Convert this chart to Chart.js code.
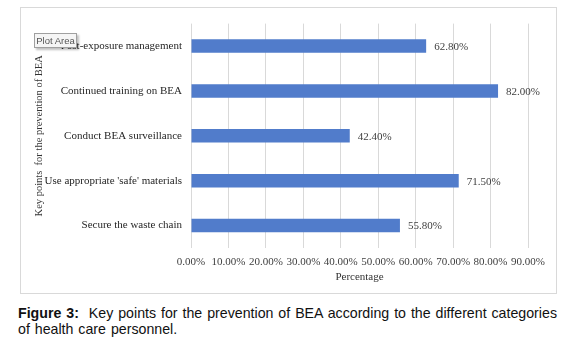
<!DOCTYPE html>
<html lang="en">
<head>
    <meta charset="UTF-8">
    <title>Key points for the prevention of BEA</title>
    <style>
        body { margin: 0; background: #fff; font-family: "Liberation Sans", Arial, sans-serif; }
        .frame { position: absolute; left: 20px; top: 7px; width: 535px; height: 285px; border: 1px solid #d9d9d9; }
        .tip { position: absolute; left: 34px; top: 33px; width: 41px; height: 13px; line-height: 13px; text-align: center;
               font-size: 9.5px; color: #555; background: #f5f5f5; border: 1px solid #a0a0a0;
               box-shadow: 2px 2px 2px rgba(0,0,0,0.25); }
        .caption { position: absolute; left: 18px; top: 305px; width: 556px; font-size: 14.2px; line-height: 16px;
                   word-spacing: 1px; color: #111; white-space: nowrap; }
    </style>
</head>
<body>
    <div class="frame">
        <canvas id="beaChart" width="535" height="285"></canvas>
    </div>
    <div class="tip">Plot Area</div>
    <div class="caption"><b>Figure 3:</b>&nbsp; Key points for the prevention of BEA according to the different categories<br>of health care personnel.</div>

    <script src="https://cdn.jsdelivr.net/npm/chart.js@4.4.1/dist/chart.umd.min.js"></script>
    <script>
        const categories = ['Post-exposure management', 'Continued training on BEA', 'Conduct BEA surveillance',
            "Use appropriate 'safe' materials", 'Secure the waste chain'];
        const percentages = [62.8, 82.0, 42.4, 71.5, 55.8];
        const tickValues = [0, 10, 20, 30, 40, 50, 60, 70, 80, 90];

        const serif = '"Liberation Serif", "Times New Roman", serif';

        // value labels at the end of each bar
        const valueLabels = {
            id: 'valueLabels',
            afterDatasetsDraw(chart) {
                const c = chart.ctx;
                const meta = chart.getDatasetMeta(0);
                c.save();
                c.font = '11px ' + serif;
                c.fillStyle = '#404040';
                c.textBaseline = 'middle';
                meta.data.forEach((bar, i) => {
                    c.fillText(percentages[i].toFixed(2) + '%', bar.x + 8, bar.y + 1);
                });
                c.restore();
            }
        };

        new Chart(document.getElementById('beaChart'), {
            type: 'bar',
            data: {
                labels: categories,
                datasets: [{
                    data: percentages,
                    backgroundColor: '#517ccb',
                    barPercentage: 0.3,
                    categoryPercentage: 1
                }]
            },
            options: {
                indexAxis: 'y',
                responsive: false,
                animation: false,
                layout: { padding: { top: 11, right: 28, left: 0, bottom: 0 } },
                plugins: { legend: { display: false }, tooltip: { enabled: false } },
                scales: {
                    x: {
                        min: 0,
                        max: 90,
                        afterBuildTicks: s => { s.ticks = tickValues.map(v => ({ value: v })); },
                        afterFit: s => { s.height = 45; },
                        grid: { color: '#d9d9d9', drawTicks: false },
                        border: { display: false },
                        ticks: {
                            padding: 8,
                            autoSkip: false,
                            maxRotation: 0,
                            minRotation: 0,
                            color: '#404040',
                            font: { family: serif, size: 11 },
                            callback: v => v.toFixed(2) + '%'
                        },
                        title: {
                            display: true,
                            text: 'Percentage',
                            color: '#333',
                            font: { family: serif, size: 11 },
                            padding: { top: 0, bottom: 9 }
                        }
                    },
                    y: {
                        afterFit: s => { s.width = 170; },
                        grid: { display: false, drawTicks: false },
                        border: { display: false },
                        ticks: {
                            padding: 9,
                            color: '#262626',
                            font: { family: serif, size: 11 }
                        },
                        title: {
                            display: true,
                            text: 'Key points  for the prevention of BEA',
                            color: '#333',
                            font: { family: serif, size: 10.5 },
                            padding: { top: 12, bottom: 0 }
                        }
                    }
                }
            },
            plugins: [valueLabels]
        });
    </script>
</body>
</html>
